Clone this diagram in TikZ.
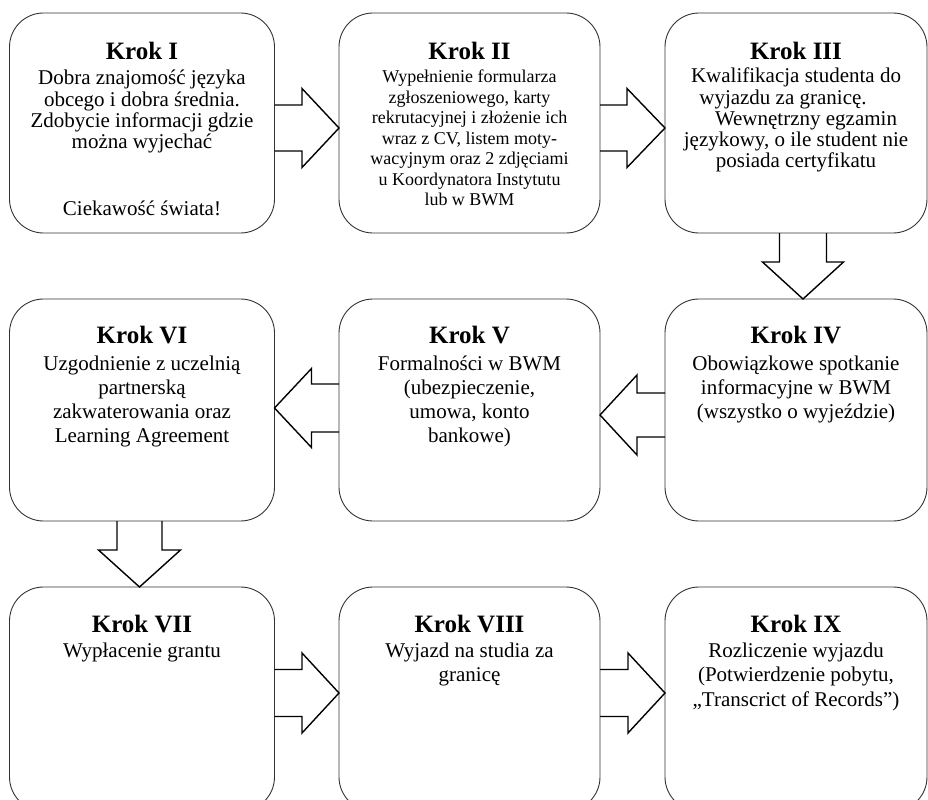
\documentclass[tikz,border=0pt]{standalone}
\usepackage{fontspec}
\setmainfont{Liberation Serif}
\usetikzlibrary{calc}

\tikzset{
  x=1bp, y=-1bp,
  stepbox/.style={draw=black!80, line width=0.9bp, rounded corners=34bp,
    inner sep=0pt, outer sep=0pt},
  blockarrow/.style={draw=black, line width=1.4bp, line join=miter},
  steptitle/.style={anchor=base, inner sep=0pt,
    font=\fontsize{25bp}{28bp}\selectfont\bfseries},
  steptext/.style={anchor=base, inner sep=0pt,
    font=\fontsize{21bp}{#1}\selectfont},
  steptext/.default=24bp,
}

% centred lines whose first baseline is the baseline of the node
\newcommand{\steplines}[1]{\begin{tabular}[t]{@{}c@{}}#1\end{tabular}}

% block arrow pointing right/left: tail, tip, axis offset, head length
% (negative for a left arrow), shaft half-width, head half-width
\newcommand{\arrowH}[6]{%
  \draw[blockarrow]
    ($(#1)+(0,#3-#5)$) -- ($(#2)+({-(#4)},#3-#5)$) -- ($(#2)+({-(#4)},#3-#6)$)
    -- ($(#2)+(0,#3)$)
    -- ($(#2)+({-(#4)},#3+#6)$) -- ($(#2)+({-(#4)},#3+#5)$) -- ($(#1)+(0,#3+#5)$);}

% block arrow pointing down
\newcommand{\arrowD}[6]{%
  \draw[blockarrow]
    ($(#1)+(#3-#5,0)$) -- ($(#2)+(#3-#5,{-(#4)})$) -- ($(#2)+(#3-#6,{-(#4)})$)
    -- ($(#2)+(#3,0)$)
    -- ($(#2)+(#3+#6,{-(#4)})$) -- ($(#2)+(#3+#5,{-(#4)})$) -- ($(#1)+(#3+#5,0)$);}

\begin{document}
\begin{tikzpicture}
\useasboundingbox (0,0) rectangle (928,800);
\clip (0,0) rectangle (928,800);

% ---------- boxes ----------
\node[stepbox, minimum width=265bp, minimum height=220bp] (k1) at (142,123) {};
\node[stepbox, minimum width=261bp, minimum height=220bp] (k2) at (469.5,123) {};
\node[stepbox, minimum width=262bp, minimum height=220bp] (k3) at (796,123) {};
\node[stepbox, minimum width=262bp, minimum height=222bp] (k4) at (796,410) {};
\node[stepbox, minimum width=261bp, minimum height=222bp] (k5) at (469.5,410) {};
\node[stepbox, minimum width=265bp, minimum height=222bp] (k6) at (142,410) {};
\node[stepbox, minimum width=265bp, minimum height=224bp] (k7) at (142,699) {};
\node[stepbox, minimum width=261bp, minimum height=224bp] (k8) at (469.5,699) {};
\node[stepbox, minimum width=262bp, minimum height=224bp] (k9) at (796,699) {};

% ---------- texts ----------
\node[steptitle] (t1) at (142,60) {Krok I};
\node[steptext=21bp] (b1) at (142,85) {\steplines{Dobra znajomość języka\\
  obcego i dobra średnia.\\ Zdobycie informacji gdzie\\ można wyjechać\\[46bp]
  Ciekawość świata!}};

\node[steptitle] (t2) at (469.5,60) {Krok II};
\node[steptext=20.4bp, font=\fontsize{18bp}{20.4bp}\selectfont] (b2) at (469.5,83)
  {\steplines{Wypełnienie formularza\\ zgłoszeniowego, karty\\
  rekrutacyjnej i złożenie ich\\ wraz z CV, listem moty-\\
  wacyjnym oraz 2 zdjęciami\\ u Koordynatora Instytutu\\ lub w BWM}};

\node[steptitle] (t3) at (796,60) {Krok III};
\node[steptext=21bp] (b3) at (796,83) {\steplines{Kwalifikacja studenta do\\
  wyjazdu za granicę.\hspace*{26bp}\\ \hspace*{20bp}Wewnętrzny egzamin\\
  językowy, o ile student nie\\ posiada certyfikatu}};

\node[steptitle] (t4) at (796,343) {Krok IV};
\node[steptext] (b4) at (796,370) {\steplines{Obowiązkowe spotkanie\\
  informacyjne w BWM\\ (wszystko o wyjeździe)}};

\node[steptitle] (t5) at (469.5,343) {Krok V};
\node[steptext] (b5) at (469.5,370) {\steplines{Formalności w BWM\\
  (ubezpieczenie,\\ umowa, konto\\ bankowe)}};

\node[steptitle] (t6) at (142,343) {Krok VI};
\node[steptext] (b6) at (142,370) {\steplines{Uzgodnienie z uczelnią\\
  partnerską\\ zakwaterowania oraz\\ Learning Agreement}};

\node[steptitle] (t7) at (142,632) {Krok VII};
\node[steptext=24.5bp] (b7) at (142,657) {\steplines{Wypłacenie grantu}};

\node[steptitle] (t8) at (469.5,632) {Krok VIII};
\node[steptext=24.5bp] (b8) at (469.5,657) {\steplines{Wyjazd na studia za\\ granicę}};

\node[steptitle] (t9) at (796,632) {Krok IX};
\node[steptext=24.5bp] (b9) at (796,657) {\steplines{Rozliczenie wyjazdu\\
  (Potwierdzenie pobytu,\\ „Transcrict of Records”)}};

% ---------- block arrows ----------
\arrowH{k1.east}{k2.west}{5}{37}{23}{39.5}
\arrowH{k2.east}{k3.west}{5}{38}{23}{39.5}
\arrowD{k3.south}{k4.north}{7}{37}{23.5}{40.5}
\arrowH{k4.west}{k5.east}{5}{-37}{22}{40}
\arrowH{k5.west}{k6.east}{-2}{-37}{24}{39.5}
\arrowD{k6.south}{k7.north}{-2.5}{37}{22.5}{41}
\arrowH{k7.east}{k8.west}{-6}{37}{23.5}{40}
\arrowH{k8.east}{k9.west}{-6}{37}{23.5}{40}
\end{tikzpicture}
\end{document}
